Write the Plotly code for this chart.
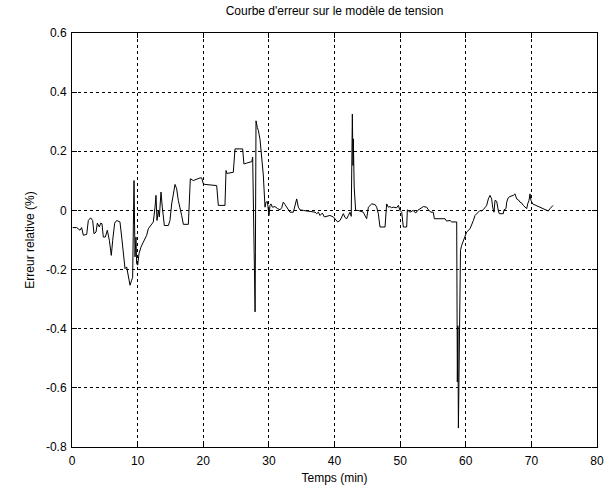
import plotly.graph_objects as go

# Time (min)
temps = [0.10, 0.71, 1.22, 1.47, 1.73, 2.24, 2.49, 2.84, 3.15, 3.35, 3.66, 3.86, 4.17, 4.37, 4.57,
         4.77, 5.08, 5.38, 5.69, 5.99, 6.20, 6.50, 6.81, 7.31, 7.57, 7.82, 8.08, 8.33, 8.58, 8.84,
         9.09, 9.24, 9.35, 9.45, 9.60, 9.75, 9.85, 10.01, 10.21, 10.51, 10.87, 11.12, 11.38, 11.63,
         12.04, 12.39, 12.65, 12.80, 12.95, 13.16, 13.31, 13.56, 13.76, 14.07, 14.68, 14.93, 15.19,
         15.44, 15.70, 15.95, 16.20, 16.71, 16.97, 17.73, 17.88, 18.03, 18.49, 19.00, 19.50, 19.76,
         20.01, 20.27, 22.05, 22.30, 23.31, 23.47, 23.60, 24.58, 24.84, 26.00, 26.20, 26.60, 27.40,
         27.53, 27.75, 27.90, 27.95, 28.04, 28.25, 28.40, 28.65, 28.90, 29.15, 29.41, 29.56, 29.77,
         30.02, 30.17, 30.32, 30.53, 30.93, 31.34, 31.70, 31.95, 32.20, 32.46, 32.71, 32.97, 33.22,
         33.73, 33.98, 34.24, 34.49, 34.74, 35.25, 36.01, 37.03, 37.29, 37.54, 37.79, 38.15, 38.45,
         38.81, 39.31, 39.82, 40.17, 40.48, 40.84, 41.09, 41.35, 41.60, 41.86, 42.11, 42.36, 42.55,
         42.72, 42.82, 42.87, 43.00, 43.22, 43.60, 44.39, 44.75, 44.90, 45.16, 45.41, 45.67, 46.17,
         46.43, 46.68, 46.93, 47.70, 47.85, 47.95, 48.20, 48.46, 48.71, 48.97, 49.48, 49.73, 49.98,
         50.24, 50.49, 51.00, 51.10, 51.50, 52.00, 52.37, 52.67, 53.03, 53.54, 54.05, 54.30, 54.70,
         55.06, 55.21, 56.84, 57.09, 57.60, 57.86, 58.62, 58.72, 58.80, 58.88, 59.05, 59.20, 59.38,
         59.63, 59.89, 60.14, 60.65, 60.90, 61.16, 61.41, 61.92, 62.17, 62.43, 62.68, 62.93, 63.19,
         63.44, 63.70, 63.95, 64.10, 64.30, 64.46, 64.71, 64.96, 65.11, 65.72, 65.83, 66.13, 66.24,
         66.48, 66.74, 67.25, 67.50, 67.76, 68.01, 68.27, 68.52, 68.77, 69.03, 69.29, 69.44, 69.64,
         69.79, 69.94, 70.20, 70.40, 70.81, 71.31, 71.82, 72.33, 72.58, 72.84, 73.09, 73.30]

# Relative error (%)
erreur = [-0.058, -0.058, -0.067, -0.058, -0.084, -0.081, -0.034, -0.025, -0.034, -0.079, -0.073,
          -0.043, -0.056, -0.043, -0.045, -0.090, -0.090, -0.067, -0.101, -0.152, -0.101, -0.043,
          -0.034, -0.039, -0.090, -0.157, -0.197, -0.191, -0.225, -0.253, -0.236, -0.227, -0.050,
          0.101, -0.157, -0.090, -0.180, -0.185, -0.146, -0.124, -0.107, -0.096, -0.084, -0.062,
          -0.051, -0.039, 0.011, 0.051, -0.034, 0.000, -0.022, 0.062, 0.011, -0.051, -0.051, -0.034,
          0.022, 0.062, 0.088, 0.073, 0.034, -0.017, -0.047, -0.047, 0.022, 0.107, 0.101, 0.107,
          0.110, 0.110, 0.090, 0.088, 0.084, 0.017, 0.017, 0.135, 0.125, 0.129, 0.208, 0.208, 0.157,
          0.160, 0.165, 0.180, -0.200, -0.343, -0.140, 0.303, 0.280, 0.270, 0.240, 0.191, 0.120,
          0.011, 0.028, 0.030, -0.017, 0.017, 0.022, 0.011, 0.013, 0.006, 0.002, 0.009, 0.028, 0.020,
          0.011, 0.006, -0.006, -0.006, 0.022, 0.039, 0.011, 0.002, 0.000, -0.002, -0.006, -0.011,
          -0.006, -0.017, -0.009, -0.022, -0.020, -0.017, -0.022, -0.031, -0.039, -0.034, -0.020,
          -0.011, -0.024, -0.028, -0.017, -0.006, -0.020, 0.326, 0.152, 0.242, 0.079, 0.000, 0.000,
          -0.006, -0.022, -0.028, 0.011, 0.017, 0.022, 0.020, 0.011, -0.011, -0.056, -0.056, 0.011,
          0.022, 0.011, 0.013, 0.009, 0.011, 0.009, 0.017, 0.000, -0.006, -0.056, -0.056, 0.002,
          -0.006, 0.000, -0.009, 0.000, 0.006, 0.013, 0.011, 0.002, -0.006, -0.006, -0.028, -0.028,
          -0.036, -0.034, -0.039, -0.039, -0.580, -0.390, -0.736, -0.390, -0.135, -0.118, -0.101,
          -0.090, -0.073, -0.062, -0.051, -0.034, -0.017, -0.006, 0.000, -0.002, 0.002, 0.009, 0.017,
          0.039, 0.051, 0.039, 0.011, -0.006, 0.034, 0.031, 0.000, -0.011, -0.011, 0.002, 0.006,
          0.028, 0.043, 0.047, 0.051, 0.056, 0.039, 0.036, 0.028, 0.025, 0.017, 0.011, 0.006, 0.022,
          0.034, 0.056, 0.034, 0.022, 0.020, 0.017, 0.011, 0.006, 0.000, -0.002, 0.006, 0.013, 0.017]

x_ticks = [0, 10, 20, 30, 40, 50, 60, 70, 80]
x_tick_labels = ["0", "10", "20", "30", "40", "50", "60", "70", "80"]
y_ticks = [0.6, 0.4, 0.2, 0, -0.2, -0.4, -0.6, -0.8]
y_tick_labels = ["0.6", "0.4", "0.2", "0", "-0.2", "-0.4", "-0.6", "-0.8"]

FONT = "Liberation Sans, Arial, sans-serif"
FS = 12

fig = go.Figure()
fig.add_trace(go.Scatter(x=temps, y=erreur, mode="lines",
                         line=dict(color="black", width=1), showlegend=False))

axis_common = dict(
    showline=True, linecolor="black", linewidth=1, mirror="ticks",
    ticks="inside", ticklen=5, tickcolor="black", tickwidth=1,
    showgrid=True, gridcolor="black", gridwidth=1, griddash="3px,3px",
    zeroline=False, tickfont=dict(family=FONT, size=FS, color="black"),
    automargin=False,
)

fig.update_layout(
    width=612, height=493,
    paper_bgcolor="white", plot_bgcolor="white",
    margin=dict(l=72, r=15, t=33, b=46),
    title=dict(text="Courbe d'erreur sur le modèle de tension",
               font=dict(family=FONT, size=FS, color="black"),
               x=(72 + 597) / 2 / 612, xanchor="center",
               y=1 - 11 / 493, yanchor="middle", yref="container"),
    xaxis=dict(range=[0, 80], tickvals=x_ticks, ticktext=x_tick_labels,
               ticklabelstandoff=3,
               title=dict(text="Temps (min)", font=dict(family=FONT, size=FS, color="black"),
                          standoff=6),
               **axis_common),
    yaxis=dict(range=[-0.8, 0.6], tickvals=y_ticks, ticktext=y_tick_labels,
               ticklabelstandoff=2,
               title=dict(text="Erreur relative (%)", font=dict(family=FONT, size=FS, color="black"),
                          standoff=8),
               **axis_common),
)

fig.write_html("out.html", config={"displayModeBar": False},
               post_script="document.body.style.margin='0';document.body.style.overflow='hidden';")
